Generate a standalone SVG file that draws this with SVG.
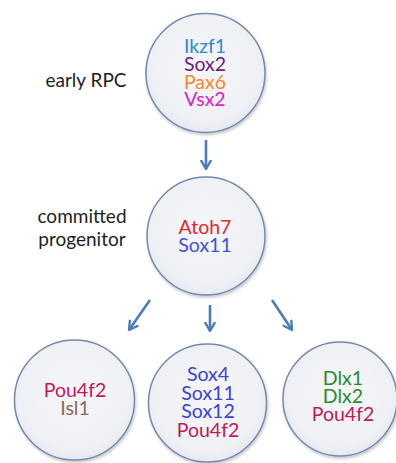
<svg xmlns="http://www.w3.org/2000/svg" width="396" height="463" viewBox="0 0 396 463">
<defs>
<radialGradient id="cg" cx="50%" cy="45%" r="55%">
<stop offset="0%" stop-color="#f5f6f8"/>
<stop offset="85%" stop-color="#eef0f4"/>
<stop offset="100%" stop-color="#e6e9f0"/>
</radialGradient>
<filter id="sh" x="-20%" y="-20%" width="140%" height="140%">
<feGaussianBlur in="SourceAlpha" stdDeviation="1.5"/>
<feOffset dx="1" dy="2" result="b"/>
<feComponentTransfer><feFuncA type="linear" slope="0.22"/></feComponentTransfer>
<feMerge><feMergeNode/><feMergeNode in="SourceGraphic"/></feMerge>
</filter>
<marker id="ah" viewBox="0 0 10 10" refX="8" refY="5" markerWidth="4.5" markerHeight="4.5" orient="auto" markerUnits="strokeWidth">
<path d="M1,1 L8,5 L1,9" fill="none" stroke="#4a7cba" stroke-width="2" stroke-linecap="round" stroke-linejoin="round"/>
</marker>
</defs>
<style>
.c{fill:url(#cg);stroke:#7489b0;stroke-width:1.5;filter:url(#sh)}
.t{font-family:Lato,"Open Sans",sans-serif;font-size:19.5px;text-anchor:middle}
.l{font-family:Lato,"Open Sans",sans-serif;font-size:19px;fill:#1e1e1e;text-anchor:middle}
.a{stroke:#4a7cba;stroke-width:2.6;fill:none;marker-end:url(#ah)}
</style>
<rect width="396" height="463" fill="#ffffff"/>
<g id="connectors">
<line class="a" x1="206" y1="140" x2="206" y2="169"/>
<line class="a" x1="150" y1="300" x2="129" y2="330"/>
<line class="a" x1="210" y1="305" x2="210" y2="331"/>
<line class="a" x1="272" y1="300" x2="292" y2="330"/>
</g>
<g id="label-early">
<text class="l" x="86" y="87">early RPC</text>
</g>
<g id="label-committed">
<text class="l" x="82" y="223">committed</text>
<text class="l" x="82" y="246">progenitor</text>
</g>
<g id="node-early">
<circle class="c" cx="205.5" cy="73" r="59.5"/>
<text class="t" x="205" y="53" fill="#2e8bd0">Ikzf1</text>
<text class="t" x="205" y="71" fill="#6c2080">Sox2</text>
<text class="t" x="205" y="88.5" fill="#f08a2c">Pax6</text>
<text class="t" x="205" y="106" fill="#e020c6">Vsx2</text>
</g>
<g id="node-committed">
<circle class="c" cx="206" cy="236" r="59"/>
<text class="t" x="205" y="234" fill="#e8262a">Atoh7</text>
<text class="t" x="205" y="252" fill="#4250dc">Sox11</text>
</g>
<g id="node-left">
<circle class="c" cx="74.5" cy="400" r="60"/>
<text class="t" x="75" y="397" fill="#c2185b">Pou4f2</text>
<text class="t" x="75" y="415" fill="#8a6a52">Isl1</text>
</g>
<g id="node-middle">
<circle class="c" cx="207.5" cy="403" r="59"/>
<text class="t" x="208" y="381" fill="#4040d8">Sox4</text>
<text class="t" x="208" y="399.5" fill="#4040d8">Sox11</text>
<text class="t" x="208" y="418" fill="#4040d8">Sox12</text>
<text class="t" x="208" y="436.5" fill="#c2185b">Pou4f2</text>
</g>
<g id="node-right">
<circle class="c" cx="340" cy="399" r="57"/>
<text class="t" x="343" y="385" fill="#2a8a2e">Dlx1</text>
<text class="t" x="343" y="403" fill="#2a8a2e">Dlx2</text>
<text class="t" x="343" y="421" fill="#c2185b">Pou4f2</text>
</g>
</svg>
